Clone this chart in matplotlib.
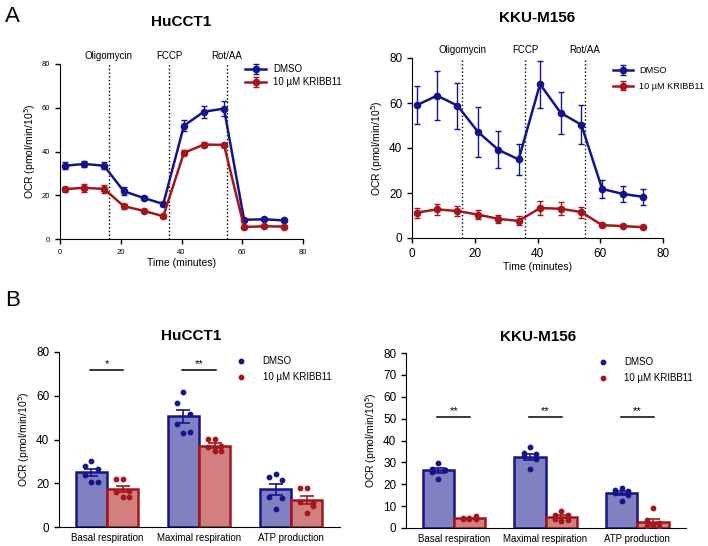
import numpy as np
import matplotlib
matplotlib.use("Agg")
import matplotlib.pyplot as plt

plt.rcParams['font.family'] = ['Liberation Sans', 'DejaVu Sans']

# ---- data ----
time_min = [1.5, 8, 14.5, 21, 27.5, 34, 40.8, 47.4, 54, 60.6, 67.2, 73.6]
injections = [16, 36, 55]
inj_labels = ["Oligomycin", "FCCP", "Rot/AA"]

hu_dmso = [33.5, 34.3, 33.5, 21.8, 18.8, 16.0, 51.8, 58.2, 59.6, 8.8, 9.0, 8.5]
hu_dmso_err = [1.5, 1.5, 1.7, 1.8, 1.0, 1.0, 2.5, 2.8, 3.5, 0.5, 0.5, 0.5]
hu_krib = [22.8, 23.4, 22.9, 15.0, 12.9, 10.4, 39.4, 43.2, 43.0, 5.5, 5.8, 5.7]
hu_krib_err = [1.2, 1.8, 1.8, 1.2, 0.6, 0.6, 1.2, 1.0, 1.0, 0.5, 0.5, 0.5]

kk_dmso = [59.0, 63.3, 58.8, 47.2, 39.2, 34.9, 68.4, 55.6, 50.3, 21.8, 19.6, 18.3]
kk_dmso_err = [8.5, 10.8, 10.2, 11.0, 8.3, 6.9, 10.4, 9.2, 8.6, 4.2, 3.7, 3.7]
kk_krib = [11.3, 12.7, 12.0, 10.4, 8.5, 7.6, 13.3, 13.0, 11.5, 5.7, 5.3, 4.8]
kk_krib_err = [2.2, 2.5, 2.3, 2.1, 1.7, 2.0, 3.0, 2.8, 2.5, 0.8, 0.6, 0.5]

categories = ["Basal respiration", "Maximal respiration", "ATP production"]

hu_bar_dmso = [[30.3, 28.0, 26.5, 24.0, 20.8, 20.6],
               [61.7, 56.5, 51.5, 47.1, 43.6, 42.8],
               [24.1, 22.7, 21.5, 13.7, 13.4, 8.1]]
hu_bar_krib = [[22.0, 22.0, 16.5, 16.0, 13.9, 13.9],
               [40.1, 40.1, 37.2, 36.7, 34.7, 34.7],
               [17.7, 17.7, 11.0, 11.5, 9.6, 6.2]]
hu_sig = ["*", "**", None]
hu_sig_y = 71.6

kk_bar_dmso = [[29.9, 27.0, 26.6, 25.8, 26.3, 22.4],
               [36.9, 34.2, 33.7, 32.7, 31.5, 26.9],
               [18.2, 17.4, 16.9, 15.9, 15.1, 12.4]]
kk_bar_krib = [[4.6, 4.3, 4.3, 4.4, 5.5, 4.0],
               [7.8, 6.0, 5.8, 4.0, 3.7, 3.4],
               [9.0, 3.7, 2.1, 0.9, 0.6, 1.4]]
kk_sig = ["**", "**", "**"]
kk_sig_y = 50.7

c_dmso = "#15158a"
c_krib = "#a3161b"
f_dmso = "#8181c2"
f_krib = "#d27f80"

W, H = 708, 546
fig = plt.figure(figsize=(W / 100, H / 100), dpi=100)


def px_axes(l, r, t, b):
    return fig.add_axes([l / W, 1 - b / H, (r - l) / W, (b - t) / H])


def line_panel(ax, dmso, dmso_err, krib, krib_err, title, tick_fs, title_y,
               leg_x, leg_y, leg_sp, leg_fs):
    ax.errorbar(time_min, dmso, yerr=dmso_err, color=c_dmso, marker='o', ms=4.5,
                lw=1.8, capsize=2, elinewidth=1, label="DMSO")
    ax.errorbar(time_min, krib, yerr=krib_err, color=c_krib, marker='o', ms=4.5,
                lw=1.8, capsize=2, elinewidth=1, label="10 µM KRIBB11")
    for x, lab in zip(injections, inj_labels):
        ax.axvline(x, color='k', ls=':', lw=1)
        ax.text(x, 81.5, lab, ha='center', va='bottom', fontsize=7)
    ax.set_xlim(0, 80)
    ax.set_ylim(0, 80)
    ax.set_xticks([0, 20, 40, 60, 80])
    ax.set_yticks([0, 20, 40, 60, 80])
    ax.tick_params(labelsize=tick_fs, length=3.5, width=1)
    ax.spines[['top', 'right']].set_visible(False)
    ax.set_xlabel("Time (minutes)", fontsize=7.5, labelpad=2)
    ax.set_ylabel("OCR (pmol/min/10$^5$)", fontsize=7.5, labelpad=3)
    ax.text(0.5, title_y, title, transform=ax.transAxes, ha='center',
            fontsize=11, fontweight='bold')
    ax.legend(loc='upper left', bbox_to_anchor=(leg_x, leg_y), frameon=False,
              fontsize=leg_fs, handlelength=2.2, handletextpad=0.7, borderaxespad=0,
              labelspacing=leg_sp)


def bar_panel(ax, dmso, krib, sig, sig_y, yticks, title, title_x, leg_x):
    w = 0.34
    x = np.arange(len(categories))
    for vals, off, fc, ec, lab in [(dmso, -w / 2, f_dmso, c_dmso, "DMSO"),
                                   (krib, w / 2, f_krib, c_krib, "10 µM KRIBB11")]:
        means = [np.mean(v) for v in vals]
        sems = [np.std(v, ddof=1) / np.sqrt(len(v)) for v in vals]
        ax.bar(x + off, means, width=w, color=fc, edgecolor=ec, lw=1.8, zorder=1)
        ax.errorbar(x + off, means, yerr=sems, fmt='none', ecolor=ec,
                    capsize=5, elinewidth=1.2, capthick=1.2, zorder=3)
        for i, v in enumerate(vals):
            jit = np.array([0, -0.07, 0.07, -0.07, 0.07, 0])[:len(v)]
            ax.scatter(x[i] + off + jit, v, s=10, color=ec, zorder=4)
        ax.scatter([], [], s=10, color=ec, label=lab)
    for i, s in enumerate(sig):
        if s is None:
            continue
        ax.plot([x[i] - 0.18, x[i] + 0.18], [sig_y, sig_y], color='k', lw=1.1)
        ax.text(x[i], sig_y + 0.5, s, ha='center', va='bottom', fontsize=8)
    ax.set_xlim(-0.52, 2.53)
    ax.set_ylim(0, 80)
    ax.set_yticks(yticks)
    ax.set_xticks(x)
    ax.set_xticklabels(categories, fontsize=7)
    ax.tick_params(axis='x', length=0, pad=4)
    ax.tick_params(axis='y', labelsize=8.5, length=3.5, width=1)
    ax.spines[['top', 'right']].set_visible(False)
    ax.set_ylabel("OCR (pmol/min/10$^5$)", fontsize=7.5, labelpad=3)
    ax.text(title_x, 1.07, title, transform=ax.transAxes, ha='center',
            fontsize=11, fontweight='bold')
    ax.legend(loc='upper left', bbox_to_anchor=(leg_x, 1.0), frameon=False,
              fontsize=7, handletextpad=1.2, borderaxespad=0, labelspacing=0.6)


ax1 = px_axes(60, 303, 64, 239)
line_panel(ax1, hu_dmso, hu_dmso_err, hu_krib, hu_krib_err, "HuCCT1", 5.5, 1.22,
           0.745, 1.02, 0.3, 7)
ax2 = px_axes(412, 663, 58, 238)
line_panel(ax2, kk_dmso, kk_dmso_err, kk_krib, kk_krib_err, "KKU-M156", 8.5, 1.2,
           0.785, 0.975, 0.75, 6.6)

ax3 = px_axes(59, 340, 352, 527)
bar_panel(ax3, hu_bar_dmso, hu_bar_krib, hu_sig, hu_sig_y, [0, 20, 40, 60, 80],
          "HuCCT1", 0.47, 0.6)
ax4 = px_axes(406, 686, 353, 528)
bar_panel(ax4, kk_bar_dmso, kk_bar_krib, kk_sig, kk_sig_y, np.arange(0, 81, 10),
          "KKU-M156", 0.47, 0.655)

fig.text(5 / W, 1 - 16 / H, "A", fontsize=16, va='center')
fig.text(5 / W, 1 - 300 / H, "B", fontsize=16, va='center')

fig.savefig("out.png", dpi=100)
